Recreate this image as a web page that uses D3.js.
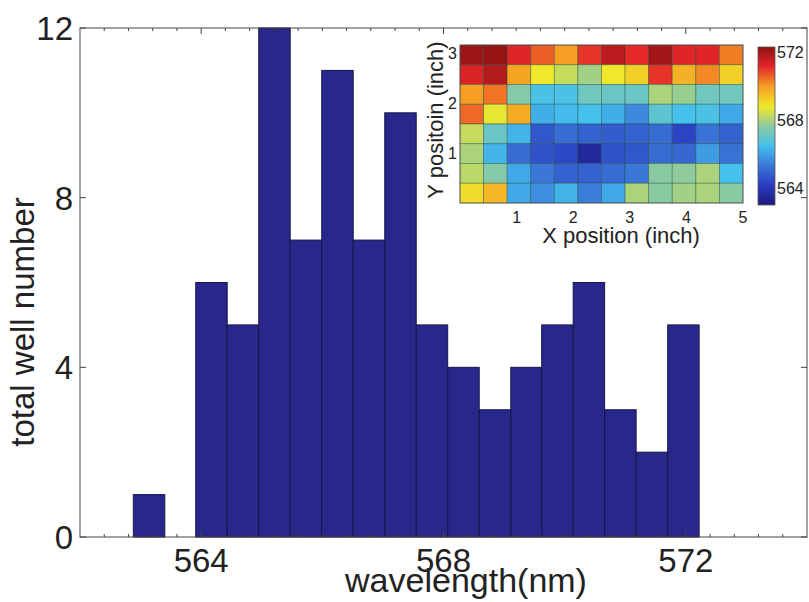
<!DOCTYPE html>
<html>
<head>
<meta charset="utf-8">
<script src="https://cdn.jsdelivr.net/npm/d3@7"></script>
<style>
  body { margin: 0; background: #fff; }
  text { font-family: "Liberation Sans", Arial, sans-serif; fill: #222; }
</style>
</head>
<body>
<svg id="chart" width="809" height="602"></svg>
<script>
// histogram bins (nm) and well counts
const binCenters = [563.14, 563.66, 564.17, 564.69, 565.21, 565.73, 566.25, 566.77, 567.29,
  567.81, 568.33, 568.85, 569.37, 569.88, 570.40, 570.92, 571.44, 571.96];
const wellCounts = [1, 0, 6, 5, 12, 7, 11, 7, 10, 5, 4, 3, 4, 5, 6, 3, 2, 5];
const binWidth = 0.519;
const xTicks = [564, 568, 572];
const yTicks = [0, 4, 8, 12];

// wavelength map, rows from top (y ~ 3) to bottom (y ~ 0), 12 columns
const mapRows = [
  [572.1, 572.2, 571.2, 570.6, 570.0, 571.0, 571.7, 571.1, 572.0, 571.2, 571.2, 570.3],
  [571.3, 571.8, 569.9, 568.8, 568.3, 567.9, 568.8, 569.2, 571.0, 569.7, 570.2, 569.2],
  [570.0, 570.4, 567.5, 566.6, 566.6, 567.2, 567.1, 567.1, 568.0, 567.8, 567.2, 567.2],
  [570.5, 568.7, 569.8, 566.2, 566.4, 566.5, 566.2, 565.6, 566.9, 566.5, 566.6, 566.1],
  [568.3, 567.1, 566.3, 564.7, 565.1, 564.9, 564.8, 564.9, 565.1, 564.3, 565.2, 564.9],
  [568.0, 566.3, 565.1, 564.6, 564.4, 563.5, 564.6, 564.7, 565.1, 565.0, 565.9, 565.2],
  [568.2, 567.5, 566.1, 565.3, 564.9, 564.9, 565.1, 565.3, 567.6, 567.7, 568.0, 566.5],
  [569.0, 569.6, 566.1, 565.7, 566.3, 565.4, 566.1, 568.0, 567.6, 567.9, 568.0, 567.6]
];
const insetXTicks = [1, 2, 3, 4, 5];
const insetYTicks = [1, 2, 3];
const colorTicks = [564, 568, 572];

const jetStops = ["#1c1a7e", "#2a3cc0", "#3a78d8", "#45c0ee", "#8ccaa0",
  "#f2e82a", "#f6a023", "#e5262a", "#8e1212"];

const svg = d3.select("#chart");

// ---- main histogram ----
const x = d3.scaleLinear().domain([562, 574]).range([80, 807]);
const y = d3.scaleLinear().domain([0, 12]).range([537, 28]);

svg.append("g")
  .selectAll("rect")
  .data(binCenters.map((c, i) => ({ c, n: wellCounts[i] })).filter(d => d.n > 0))
  .enter()
  .append("rect")
  .attr("x", d => x(d.c - binWidth / 2))
  .attr("y", d => y(d.n))
  .attr("width", d => x(d.c + binWidth / 2) - x(d.c - binWidth / 2))
  .attr("height", d => y(0) - y(d.n))
  .attr("fill", "#27288a")
  .attr("stroke", "#16164a")
  .attr("stroke-width", 1);

// box
svg.append("rect")
  .attr("x", 80).attr("y", 28)
  .attr("width", 807 - 80).attr("height", 537 - 28)
  .attr("fill", "none").attr("stroke", "#444").attr("stroke-width", 1);

const minorX = d3.range(562.4, 573.7, 0.4);
const tickG = svg.append("g").attr("stroke", "#444").attr("stroke-width", 1);
minorX.forEach(v => {
  const major = xTicks.some(t => Math.abs(t - v) < 0.01);
  const len = major ? 6 : 3;
  tickG.append("line").attr("x1", x(v)).attr("x2", x(v)).attr("y1", 537).attr("y2", 537 - len);
  tickG.append("line").attr("x1", x(v)).attr("x2", x(v)).attr("y1", 28).attr("y2", 28 + len);
});
yTicks.forEach(v => {
  tickG.append("line").attr("x1", 80).attr("x2", 86).attr("y1", y(v)).attr("y2", y(v));
  tickG.append("line").attr("x1", 807).attr("x2", 801).attr("y1", y(v)).attr("y2", y(v));
});

svg.append("g")
  .selectAll("text")
  .data(xTicks)
  .enter()
  .append("text")
  .attr("x", d => x(d))
  .attr("y", 572)
  .attr("text-anchor", "middle")
  .attr("font-size", 33)
  .text(d => d);

svg.append("g")
  .selectAll("text")
  .data(yTicks)
  .enter()
  .append("text")
  .attr("x", 73)
  .attr("y", d => y(d))
  .attr("dy", "0.36em")
  .attr("text-anchor", "end")
  .attr("font-size", 33)
  .text(d => d);

svg.append("text")
  .attr("x", 466).attr("y", 592)
  .attr("text-anchor", "middle")
  .attr("font-size", 34)
  .text("wavelength(nm)");

svg.append("text")
  .attr("transform", "translate(34,322) rotate(-90)")
  .attr("text-anchor", "middle")
  .attr("font-size", 33)
  .text("total well number");

// ---- inset map ----
const ix = d3.scaleLinear().domain([0, 5]).range([460, 743]);
const iy = d3.scaleLinear().domain([0, 3.16]).range([203, 45]);
const nCols = mapRows[0].length;
const nRows = mapRows.length;
const cw = 5 / nCols;
const ch = 3.16 / nRows;

const colorScale = d3.scaleLinear()
  .domain(jetStops.map((s, i) => 563 + (572.3 - 563) * i / (jetStops.length - 1)))
  .range(jetStops)
  .clamp(true);

const cells = [];
mapRows.forEach((row, r) => row.forEach((v, c) => cells.push({ r, c, v })));

svg.append("rect")
  .attr("x", 420).attr("y", 36).attr("width", 340).attr("height", 215)
  .attr("fill", "#fff");

svg.append("g")
  .selectAll("rect")
  .data(cells)
  .enter()
  .append("rect")
  .attr("x", d => ix(d.c * cw))
  .attr("y", d => iy(3.16 - d.r * ch))
  .attr("width", ix(cw) - ix(0))
  .attr("height", iy(0) - iy(ch))
  .attr("fill", d => colorScale(d.v))
  .attr("stroke", "rgba(20,60,50,0.45)")
  .attr("stroke-width", 0.8);

svg.append("rect")
  .attr("x", 460).attr("y", 45).attr("width", 743 - 460).attr("height", 203 - 45)
  .attr("fill", "none").attr("stroke", "#555").attr("stroke-width", 0.8);

svg.append("g")
  .selectAll("text")
  .data(insetXTicks)
  .enter()
  .append("text")
  .attr("x", d => ix(d))
  .attr("y", 223)
  .attr("text-anchor", "middle")
  .attr("font-size", 16)
  .text(d => d);

svg.append("g")
  .selectAll("text")
  .data(insetYTicks)
  .enter()
  .append("text")
  .attr("x", 457)
  .attr("y", d => iy(d))
  .attr("dy", "0.36em")
  .attr("text-anchor", "end")
  .attr("font-size", 16)
  .text(d => d);

svg.append("text")
  .attr("x", 621).attr("y", 243)
  .attr("text-anchor", "middle")
  .attr("font-size", 22)
  .text("X position (inch)");

svg.append("text")
  .attr("transform", "translate(443,120) rotate(-90)")
  .attr("text-anchor", "middle")
  .attr("font-size", 22)
  .text("Y positoin (inch)");

// colorbar
const cy = d3.scaleLinear().domain([563, 572.3]).range([205, 47]);
const grad = svg.append("defs").append("linearGradient")
  .attr("id", "jet").attr("x1", 0).attr("y1", 1).attr("x2", 0).attr("y2", 0);
jetStops.forEach((s, i) => {
  grad.append("stop").attr("offset", i / (jetStops.length - 1)).attr("stop-color", s);
});
svg.append("rect")
  .attr("x", 758).attr("y", 47).attr("width", 17).attr("height", 205 - 47)
  .attr("fill", "url(#jet)").attr("stroke", "#555").attr("stroke-width", 0.8);

svg.append("g")
  .selectAll("text")
  .data(colorTicks)
  .enter()
  .append("text")
  .attr("x", 777)
  .attr("y", d => cy(d))
  .attr("dy", "0.36em")
  .attr("font-size", 16)
  .text(d => d);
</script>
</body>
</html>
